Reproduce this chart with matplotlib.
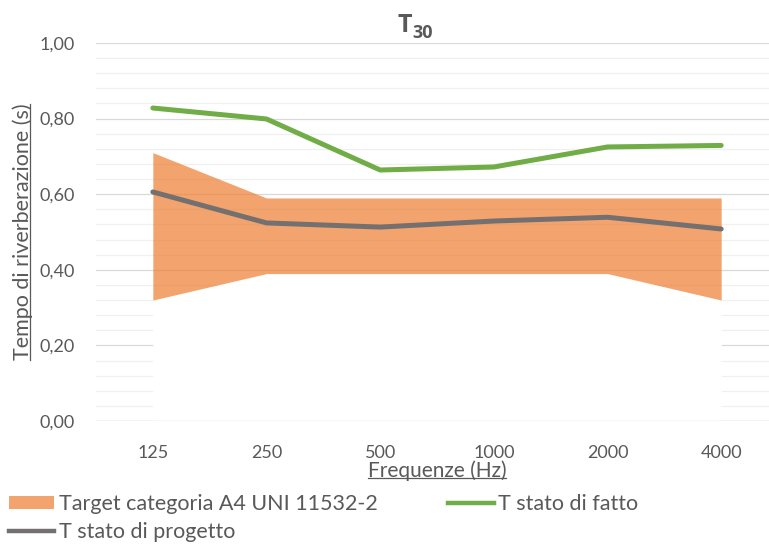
import matplotlib
matplotlib.use("Agg")
import matplotlib.pyplot as plt
from matplotlib.patches import Patch
from matplotlib.lines import Line2D
import numpy as np

plt.rcParams['font.family'] = ['Lato', 'DejaVu Sans']

# Octave-band centre frequencies
frequencies = ["125", "250", "500", "1000", "2000", "4000"]

# Target band (UNI 11532-2, category A4): lower and upper limits (s)
target_lower = [0.32, 0.39, 0.39, 0.39, 0.39, 0.32]
target_upper = [0.71, 0.59, 0.59, 0.59, 0.59, 0.59]

# Measured reverberation time, current state (s)
t_stato_fatto = [0.828, 0.799, 0.664, 0.672, 0.725, 0.729]

# Designed reverberation time (s)
t_stato_progetto = [0.606, 0.524, 0.513, 0.529, 0.539, 0.508]

y_ticks = [0.0, 0.2, 0.4, 0.6, 0.8, 1.0]
y_tick_labels = ["0,00", "0,20", "0,40", "0,60", "0,80", "1,00"]

TEXT = "#595959"
ORANGE = "#ED7D31"
GREEN = "#70AD47"
GRAY = "#747070"

W, H = 769, 548
fig = plt.figure(figsize=(W / 100, H / 100), dpi=100)
ax = fig.add_axes([96 / W, 127 / H, 682 / W, 378 / H])

x = np.arange(len(frequencies))

# Gridlines
ax.set_axisbelow(True)
ax.set_yticks(y_ticks)
ax.set_yticks(np.arange(0, 1.0001, 0.04), minor=True)
ax.grid(which="major", axis="y", color="#D9D9D9", lw=0.9, zorder=0)
ax.grid(which="minor", axis="y", color="#F0F0F0", lw=0.9, zorder=0)

# Stacked band: white base up to the lower limit, orange band above
ax.fill_between(x, 0, target_lower, color="white", lw=0, zorder=1)
ax.fill_between(x, target_lower, target_upper, color=ORANGE, alpha=0.7, lw=0, zorder=2)
ax.axhline(0, color="#D9D9D9", lw=1.0, zorder=3)

ax.plot(x, t_stato_fatto, color=GREEN, lw=3.6, solid_capstyle="round", solid_joinstyle="round", zorder=4)
ax.plot(x, t_stato_progetto, color=GRAY, lw=3.6, solid_capstyle="round", solid_joinstyle="round", zorder=4)

ax.set_xlim(-0.5, len(frequencies) - 0.5)
ax.set_ylim(0, 1.0)
ax.set_xticks(x)
ax.set_xticklabels(frequencies)
ax.set_yticklabels(y_tick_labels)
ax.tick_params(axis="both", which="both", length=0, labelsize=13, colors=TEXT)
ax.tick_params(axis="x", pad=17)
ax.tick_params(axis="y", pad=15)
for s in ax.spines.values():
    s.set_visible(False)

xl = ax.set_xlabel("Frequenze (Hz)", fontsize=15, color=TEXT, labelpad=0)
yl = ax.set_ylabel("Tempo di riverberazione (s)", fontsize=15.5, color=TEXT, labelpad=5)

# Title T with subscript 30
fig.text(397 / W, 1 - 32 / H, "T", fontsize=18, fontweight="bold", color=TEXT,
         family=["Open Sans", "DejaVu Sans"], va="baseline", ha="left")
fig.text(412 / W, 1 - 38 / H, "30", fontsize=13, fontweight="bold", color=TEXT,
         family=["Open Sans", "DejaVu Sans"], va="baseline", ha="left")

handles = [
    Patch(facecolor=ORANGE, alpha=0.7, edgecolor="none", label="Target categoria A4 UNI 11532-2"),
    Line2D([], [], color=GRAY, lw=3.2, label="T stato di progetto"),
    Line2D([], [], color=GREEN, lw=3.2, label="T stato di fatto"),
]
fig.legend(handles=handles, ncol=2, loc="upper left", bbox_to_anchor=(9 / W, 1 - 494 / H),
           frameon=False, fontsize=15.5, labelcolor=TEXT, handlelength=2.1, handleheight=0.6,
           handletextpad=0.2, columnspacing=3.3, labelspacing=0.38, borderaxespad=0, borderpad=0)

# Underline the axis titles
fig.canvas.draw()
inv = fig.transFigure.inverted()
bx = xl.get_window_extent()
yb = bx.y0 + 3
p0, p1 = inv.transform([(bx.x0, yb), (bx.x1, yb)])
fig.add_artist(Line2D([p0[0], p1[0]], [p0[1], p1[1]], color=TEXT, lw=0.9, transform=fig.transFigure))
by = yl.get_window_extent()
xb = by.x1 - 3
p0, p1 = inv.transform([(xb, by.y0), (xb, by.y1)])
fig.add_artist(Line2D([p0[0], p1[0]], [p0[1], p1[1]], color=TEXT, lw=0.9, transform=fig.transFigure))

fig.savefig("out.png", dpi=100)
